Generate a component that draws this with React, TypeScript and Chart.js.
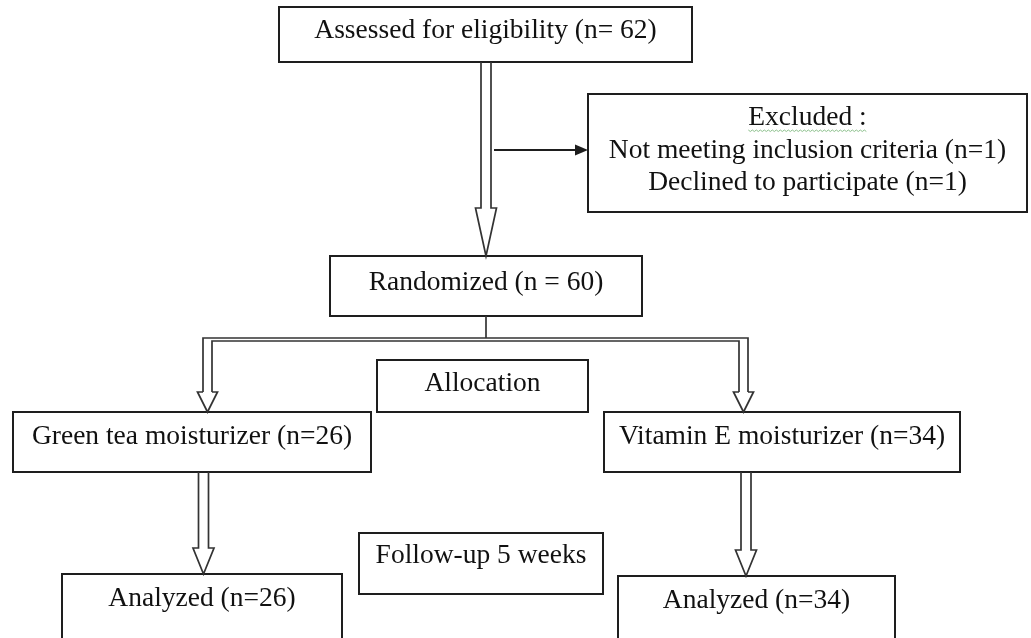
import React, { useEffect, useRef } from "react";
import { Chart, registerables } from "chart.js";

Chart.register(...registerables);

// ---- content ----
const boxText: string[][] = [
  ["Assessed for eligibility (n= 62)"],
  ["Excluded :", "Not meeting inclusion criteria (n=1)", "Declined to participate (n=1)"],
  ["Randomized (n = 60)"],
  ["Allocation"],
  ["Green tea moisturizer (n=26)"],
  ["Vitamin E moisturizer (n=34)"],
  ["Follow-up 5 weeks"],
  ["Analyzed (n=26)"],
  ["Analyzed (n=34)"],
];

// ---- layout (data units = reference pixels) ----
const boxLeft = [279, 588, 330, 377, 13, 604, 359, 62, 618];
const boxTop = [7, 94, 256, 360, 412, 412, 533, 574, 576];
const boxRight = [692, 1027, 642, 588, 371, 960, 603, 342, 895];
const boxBottom = [62, 212, 316, 412, 472, 472, 594, 648, 648];
const textY: number[][] = [[31], [118, 151, 183], [283], [384], [437], [437], [556], [599], [601]];

// hollow down arrows: centre x, start y, head start y, tip y
const arrowX = [486, 203.5, 746];
const arrowStart = [62, 472, 472];
const arrowHead = [208, 548, 550];
const arrowTip = [256, 574, 576];

// branch pipe from randomization to the two arms
const branchLeft = 207.5;
const branchRight = 743.5;
const branchY = 338;
const branchHead = 392;
const branchTip = 412;

const flowPlugin = {
  id: "flow",
  afterDraw(chart: any) {
    const ctx = chart.ctx as CanvasRenderingContext2D;
    const sx = chart.scales.x;
    const sy = chart.scales.y;
    const X = (v: number) => sx.getPixelForValue(v);
    const Y = (v: number) => sy.getPixelForValue(v);
    ctx.save();
    ctx.fillStyle = "#ffffff";
    ctx.fillRect(0, 0, chart.width, chart.height);

    // boxes
    ctx.lineWidth = 2;
    ctx.strokeStyle = "#1e1e1e";
    ctx.font = '27.5px "Liberation Serif", "Times New Roman", serif';
    ctx.textAlign = "center";
    ctx.textBaseline = "middle";
    for (let i = 0; i < boxText.length; i++) {
      const x0 = X(boxLeft[i]);
      const x1 = X(boxRight[i]);
      const y0 = Y(boxTop[i]);
      const y1 = Y(boxBottom[i]);
      ctx.strokeRect(x0, y0, x1 - x0, y1 - y0);
      ctx.fillStyle = "#111111";
      const cx = (x0 + x1) / 2;
      boxText[i].forEach((t, j) => {
        ctx.fillText(t, cx, Y(textY[i][j]));
        if (i === 1 && j === 0) {
          // spell-check style wavy underline
          const w = ctx.measureText(t).width;
          ctx.save();
          ctx.strokeStyle = "#8cc08c";
          ctx.lineWidth = 1;
          ctx.beginPath();
          const by = Y(textY[i][j]) + 12;
          for (let k = 0; k <= w; k += 2) {
            const px = cx - w / 2 + k;
            const py = by + ((k / 2) % 2 === 0 ? 0 : 1.5);
            if (k === 0) ctx.moveTo(px, py);
            else ctx.lineTo(px, py);
          }
          ctx.stroke();
          ctx.restore();
        }
      });
    }

    // hollow arrows
    ctx.strokeStyle = "#333333";
    ctx.lineWidth = 1.7;
    const shaftHalf = 5;
    const headHalf = 10.5;
    for (let i = 0; i < arrowX.length; i++) {
      const cx = arrowX[i];
      ctx.beginPath();
      ctx.moveTo(X(cx - shaftHalf), Y(arrowStart[i]));
      ctx.lineTo(X(cx - shaftHalf), Y(arrowHead[i]));
      ctx.lineTo(X(cx - headHalf), Y(arrowHead[i]));
      ctx.lineTo(X(cx), Y(arrowTip[i]));
      ctx.lineTo(X(cx + headHalf), Y(arrowHead[i]));
      ctx.lineTo(X(cx + shaftHalf), Y(arrowHead[i]));
      ctx.lineTo(X(cx + shaftHalf), Y(arrowStart[i]));
      ctx.stroke();
    }

    // connector from randomized box
    ctx.beginPath();
    ctx.moveTo(X(486), Y(boxBottom[2]));
    ctx.lineTo(X(486), Y(branchY));
    ctx.stroke();

    // branch pipe (outer + inner lines)
    const gap = 3;
    ctx.beginPath();
    ctx.moveTo(X(branchLeft - 4.5), Y(branchHead));
    ctx.lineTo(X(branchLeft - 4.5), Y(branchY));
    ctx.lineTo(X(branchRight + 4.5), Y(branchY));
    ctx.lineTo(X(branchRight + 4.5), Y(branchHead));
    ctx.stroke();
    ctx.beginPath();
    ctx.moveTo(X(branchLeft + 4.5), Y(branchHead));
    ctx.lineTo(X(branchLeft + 4.5), Y(branchY + gap));
    ctx.lineTo(X(branchRight - 4.5), Y(branchY + gap));
    ctx.lineTo(X(branchRight - 4.5), Y(branchHead));
    ctx.stroke();
    [branchLeft, branchRight].forEach((cx) => {
      ctx.beginPath();
      ctx.moveTo(X(cx - 4.5), Y(branchHead));
      ctx.lineTo(X(cx - 10), Y(branchHead));
      ctx.lineTo(X(cx), Y(branchTip));
      ctx.lineTo(X(cx + 10), Y(branchHead));
      ctx.lineTo(X(cx + 4.5), Y(branchHead));
      ctx.stroke();
    });

    // exclusion arrow
    const ay = 150;
    const ax0 = arrowX[0] + shaftHalf + 3;
    const ax1 = boxLeft[1];
    ctx.strokeStyle = "#1e1e1e";
    ctx.lineWidth = 1.8;
    ctx.beginPath();
    ctx.moveTo(X(ax0), Y(ay));
    ctx.lineTo(X(ax1 - 8), Y(ay));
    ctx.stroke();
    ctx.fillStyle = "#1e1e1e";
    ctx.beginPath();
    ctx.moveTo(X(ax1), Y(ay));
    ctx.lineTo(X(ax1 - 13), Y(ay - 5.5));
    ctx.lineTo(X(ax1 - 13), Y(ay + 5.5));
    ctx.closePath();
    ctx.fill();

    ctx.restore();
  },
};

export default function App() {
  const ref = useRef<HTMLCanvasElement | null>(null);
  useEffect(() => {
    if (!ref.current) return;
    const chart = new Chart(ref.current, {
      type: "scatter",
      data: { datasets: [{ data: [], pointRadius: 0 }] },
      options: {
        responsive: false,
        animation: false,
        layout: { padding: 0 },
        plugins: { legend: { display: false }, tooltip: { enabled: false } },
        scales: {
          x: { type: "linear", min: 0, max: 1031, display: false },
          y: { type: "linear", min: 0, max: 638, reverse: true, display: false },
        },
      },
      plugins: [flowPlugin],
    });
    return () => chart.destroy();
  }, []);
  return (
    <div style={{ position: "fixed", left: 0, top: 0, width: 1031, height: 638, background: "#fff" }}>
      <canvas ref={ref} width={1031} height={638} style={{ display: "block" }} />
    </div>
  );
}
